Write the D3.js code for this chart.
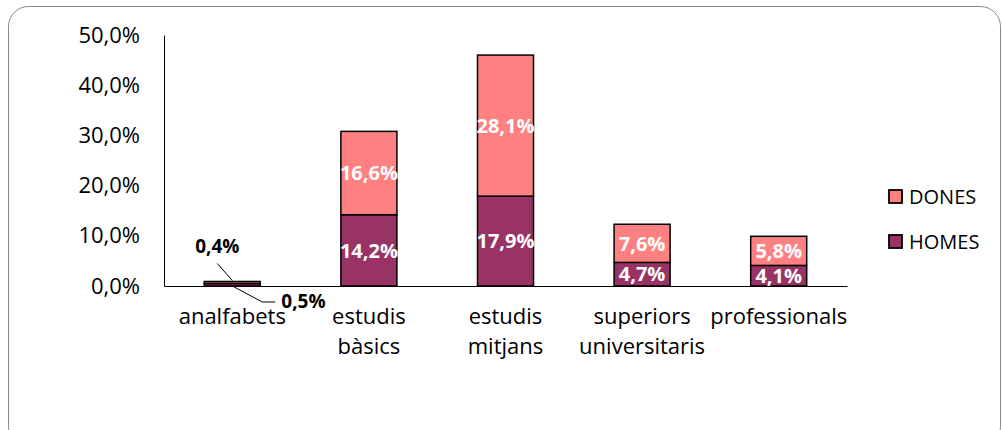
<!DOCTYPE html>
<html lang="ca">
<head>
  <meta charset="UTF-8">
  <title>Nivell d'estudis per sexe</title>
  <script src="https://d3js.org/d3.v7.min.js"></script>
  <style>
    body { margin: 0; background: #fff; }
    text { font-family: "Open Sans", sans-serif; fill: #000; }
    .tick text { font-size: 22px; }
    .bar-label { font-size: 20px; font-weight: bold; fill: #fff; }
  </style>
</head>
<body>
  <div id="chart"></div>
  <script>
    // dades
    const categories = ["analfabets", "estudis\nbàsics", "estudis\nmitjans", "superiors\nuniversitaris", "professionals"];
    const series = ["HOMES", "DONES"];
    const homes = [0.5, 14.2, 17.9, 4.7, 4.1];
    const dones = [0.4, 16.6, 28.1, 7.6, 5.8];
    const yTicks = [0, 10, 20, 30, 40, 50];
    const colors = { HOMES: "#993366", DONES: "#FF8080" };

    const width = 1002, height = 430;
    const margin = { top: 35, right: 155, bottom: 144, left: 164 };

    const svg = d3.select("#chart").append("svg")
      .attr("width", width)
      .attr("height", height);

    // marc arrodonit
    svg.append("rect")
      .attr("x", 8.5).attr("y", 6.5)
      .attr("width", 992).attr("height", 440)
      .attr("rx", 20)
      .attr("fill", "none")
      .attr("stroke", "#888")
      .attr("stroke-width", 1);

    const x = d3.scaleBand()
      .domain(categories)
      .range([margin.left, width - margin.right])
      .paddingInner(0.59)
      .paddingOuter(0.295);

    const y = d3.scaleLinear()
      .domain([0, 50])
      .range([height - margin.bottom, margin.top]);

    const rows = categories.map((c, i) => ({ cat: c, HOMES: homes[i], DONES: dones[i] }));
    const stacked = d3.stack().keys(series)(rows);

    // eix Y
    const yAxis = svg.append("g")
      .attr("transform", `translate(${margin.left},0)`)
      .call(d3.axisLeft(y).tickValues(yTicks).tickSize(0).tickPadding(24)
        .tickFormat(d => d.toFixed(1).replace(".", ",") + "%"));
    yAxis.select(".domain").attr("stroke", "#000");

    // barres
    stacked.forEach(s => {
      svg.append("g").selectAll("rect")
        .data(s)
        .join("rect")
        .attr("x", d => x(d.data.cat))
        .attr("y", d => y(d[1]))
        .attr("width", x.bandwidth())
        .attr("height", d => y(d[0]) - y(d[1]))
        .attr("fill", colors[s.key])
        .attr("stroke", "#000")
        .attr("stroke-width", 1.5);
    });

    // eix X
    const xAxis = svg.append("g")
      .attr("transform", `translate(0,${y(0)})`)
      .call(d3.axisBottom(x).tickSize(0).tickFormat(""));
    xAxis.select(".domain").attr("stroke", "#000").attr("stroke-width", 1.2);

    xAxis.selectAll(".tick").each(function(d) {
      const t = d3.select(this).append("text")
        .attr("text-anchor", "middle")
        .attr("y", 38)
        .style("font-size", "22px");
      d.split("\n").forEach((line, i) => {
        t.append("tspan").attr("x", 0).attr("dy", i === 0 ? 0 : 30).text(line);
      });
    });

    const fmt = v => v.toFixed(1).replace(".", ",") + "%";

    // etiquetes dins barres
    stacked.forEach(s => {
      svg.append("g").selectAll("text")
        .data(s.filter((d, i) => i > 0))
        .join("text")
        .attr("class", "bar-label")
        .attr("x", d => x(d.data.cat) + x.bandwidth() / 2)
        .attr("y", d => (y(d[0]) + y(d[1])) / 2)
        .attr("dy", "0.36em")
        .attr("text-anchor", "middle")
        .text(d => fmt(d[1] - d[0]));
    });

    // etiquetes analfabets amb línies guia
    const c0 = categories[0];
    const cx0 = x(c0) + x.bandwidth() / 2;
    const topY = y(homes[0] + dones[0]);
    const midY = y(homes[0]);
    svg.append("path")
      .attr("d", `M${cx0 - 15},${topY - 18} L${cx0},${topY - 1}`)
      .attr("stroke", "#000").attr("fill", "none");
    svg.append("text")
      .attr("x", cx0 - 15).attr("y", topY - 28)
      .attr("text-anchor", "middle")
      .style("font-size", "19px").style("font-weight", "bold")
      .text(fmt(dones[0]));
    svg.append("path")
      .attr("d", `M${cx0},${midY + 2.5} L${cx0 + 30},${midY + 18.5} L${cx0 + 43},${midY + 18.5}`)
      .attr("stroke", "#000").attr("fill", "none");
    svg.append("text")
      .attr("x", cx0 + 49).attr("y", midY + 25)
      .style("font-size", "19px").style("font-weight", "bold")
      .text(fmt(homes[0]));

    // llegenda
    const legend = svg.append("g").attr("transform", "translate(889,190)");
    ["DONES", "HOMES"].forEach((k, i) => {
      const g = legend.append("g").attr("transform", `translate(0,${i * 45})`);
      g.append("rect")
        .attr("width", 13).attr("height", 13)
        .attr("fill", colors[k])
        .attr("stroke", "#000").attr("stroke-width", 1.8);
      g.append("text")
        .attr("x", 20).attr("y", 7)
        .attr("dy", "0.36em")
        .style("font-size", "20px")
        .text(k);
    });
  </script>
</body>
</html>
